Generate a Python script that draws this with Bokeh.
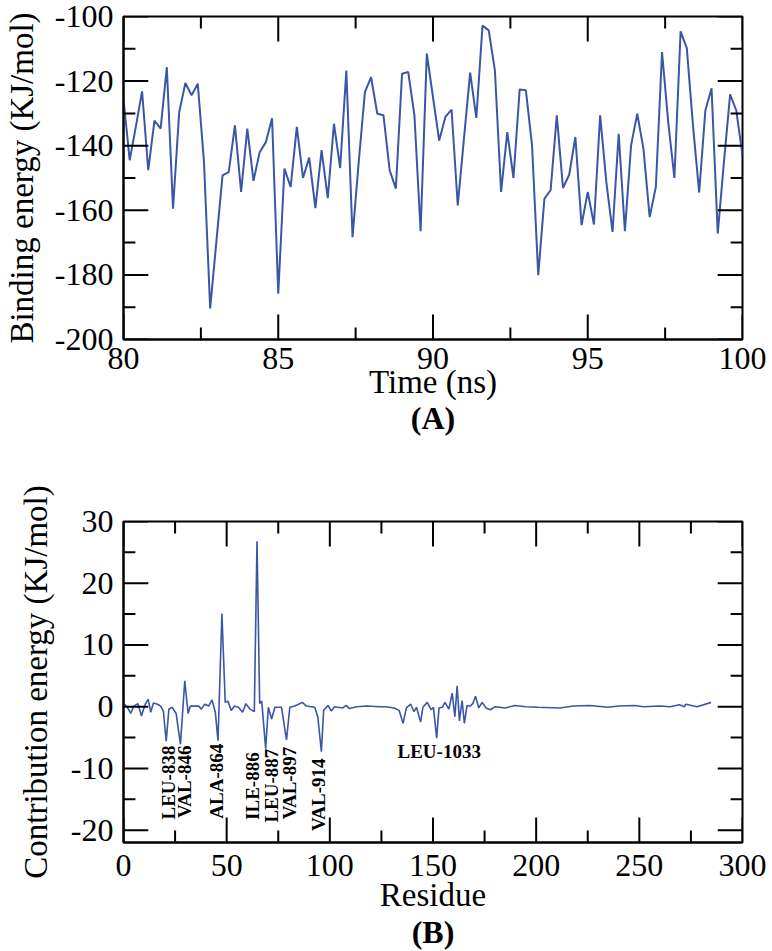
import numpy as np
from bokeh.plotting import figure
from bokeh.models import SingleIntervalTicker, Title, Range1d, PrintfTickFormatter, ColumnDataSource
from bokeh.layouts import column
from bokeh.embed import file_html
from bokeh.resources import INLINE
from bokeh.core.properties import value

# ---------------- data ----------------
# (A) binding energy, sampled every 0.2 ns from 80 to 100 ns
binding_energy = [
    -125.5, -144.5, -134.0, -123.2, -147.6, -132.2, -134.7, -115.7, -159.5, -129.6,
    -120.6, -124.4, -120.8, -145.0, -190.4, -169.8, -149.2, -148.2, -133.7, -154.3,
    -134.7, -150.9, -142.0, -138.9, -131.5, -185.8, -147.1, -152.8, -134.2, -150.0,
    -143.7, -159.3, -141.4, -156.2, -133.2, -146.9, -116.7, -168.3, -145.0, -123.4,
    -118.8, -130.1, -130.6, -147.6, -153.3, -117.7, -117.2, -130.6, -166.5, -111.5,
    -125.0, -138.4, -131.1, -128.8, -158.5, -137.8, -117.4, -131.4, -102.8, -104.3,
    -116.7, -154.3, -135.8, -150.0, -122.6, -122.8, -139.9, -180.1, -156.4, -153.8,
    -130.6, -153.1, -149.0, -137.3, -164.6, -154.3, -164.4, -130.6, -151.2, -166.7,
    -136.3, -166.5, -139.9, -130.1, -141.0, -162.1, -152.8, -111.0, -132.7, -150.0,
    -104.6, -109.8, -133.7, -154.5, -129.1, -122.2, -167.2, -145.1, -124.1, -129.1,
    -143.0,
]
time_start, time_end = 80, 100
a_x_major = [80, 85, 90, 95, 100]
a_x_minor = [82.5, 87.5, 92.5, 97.5]
a_y_major = [-200, -180, -160, -140, -120, -100]
a_y_minor = [-190, -170, -150, -130, -110]

# (B) per-residue contribution energy
residue = [
    0, 1.5, 3.5, 5, 7, 8.7, 10.5, 12, 13.2, 14.5, 16.5, 18, 19.3, 20.7, 22, 23.6,
    25.5, 27.6, 29.7, 31.3, 32.4, 36.5, 37.7, 39.4, 41.3, 42.9, 44.5, 45.8, 47.7,
    49.3, 50.6, 52.2, 53.8, 55.7, 57.7, 59.3, 61.3, 63.4, 64.7, 66, 67, 68.9, 70.2,
    71.8, 73.4, 76.6, 79, 80.6, 83, 86.7, 88.6, 92.7, 94.2, 95.9, 97, 99.1, 100.7,
    102.3, 106.3, 107.9, 109.5, 113, 118, 124, 127, 131.2, 133.6, 135.5, 137.1,
    139.2, 140.8, 142, 144, 145.1, 147.2, 149.1, 150.2, 151.8, 152.9, 154.5, 155.8,
    157.7, 159.3, 160.6, 161.7, 162.8, 164.1, 165.2, 166.5, 168, 169.3, 170.6,
    172.2, 173.8, 175.7, 177.8, 180.2, 185, 189.8, 195, 201, 211.5, 218, 226,
    234.8, 240, 247.8, 252, 259.8, 265, 269.4, 271.8, 272.6, 278, 284.8,
]
contribution = [
    0.5, 0.1, -1.1, 0.1, 0.5, -1.5, 0.4, 1.2, -0.9, 0.6, 0.4, 0.1, -0.7, -5.6, -0.4, -0.1,
    -1.1, -6.1, 4.2, -1.1, 0.1, 0.1, -0.4, 0.4, 0.1, 1.1, -0.9, -5.5, 15.1,
    0.7, 0.9, -0.6, 0.1, -0.1, -0.9, 0.5, -0.4, -0.8, 26.8, 0.5, 0.9, -6.8, -0.1,
    -2.0, -0.1, -0.1, -5.4, -0.1, 0.1, 0.7, 0.1, -0.1, -1.7, -7.3, -0.6, 0.2, -0.7,
    0.0, -0.2, 0.2, -0.3, 0.0, 0.1, 0.0, 0.0, -0.2, -0.6, -2.7, -0.2,
    0.4, -0.8, -0.1, -2.5, -0.1, 0.7, -0.5, -0.1, -5.1, -0.2, -0.1, 0.7,
    -0.4, 2.2, -1.6, 3.4, -2.3, 1.0, -2.7, 0.2, 0.1, 0.5, 1.7,
    -0.2, 0.7, -0.2, -0.5, 0.0, -0.2, 0.2, 0.0, -0.1, -0.2, 0.1, 0.2,
    -0.1, 0.1, 0.2, 0.0, 0.1, 0.0, 0.3, 0.0, 0.4, 0.0, 0.7,
]
b_x_major = [0, 50, 100, 150, 200, 250, 300]
b_x_minor = [25, 75, 125, 175, 225, 275]
b_y_major = [-20, -10, 0, 10, 20, 30]
b_y_minor = [-15, -5, 5, 15, 25]

# residue labels (rotated), placed at the residue with their top end at y
rot_label_text = ["LEU-838", "VAL-846", "ALA-864", "ILE-886", "LEU-887", "VAL-897", "VAL-914"]
rot_label_res = [21.7, 29.7, 45.3, 62.6, 71.8, 80.3, 94.7]
rot_label_top = [-6.3, -6.3, -6.0, -7.4, -6.8, -6.5, -8.4]
flat_label_text = ["LEU-1033"]
flat_label_res = [153]
flat_label_y = [-7.2]

# ---------------- styling ----------------
FONT = "Liberation Serif"
BLUE = "#3a56a6"
MAJOR_LEN = 25   # px
MINOR_LEN = 12   # px


def style_axis(ax, ticker):
    ax.ticker = ticker
    ax.formatter = PrintfTickFormatter(format="%d")
    ax.axis_line_color = "black"
    ax.axis_line_width = 2
    ax.major_tick_in = 0
    ax.major_tick_out = 0
    ax.minor_tick_in = 0
    ax.minor_tick_out = 0
    ax.major_label_text_font = FONT
    ax.major_label_text_font_size = "32px"
    ax.major_label_text_color = "black"
    ax.axis_label_text_font = FONT
    ax.axis_label_text_font_size = "33px"
    ax.axis_label_text_font_style = "normal"
    ax.axis_label_text_color = "black"


def series_with_ticks(p, x, y, color, width, xr, yr, frame_w, frame_h, xmaj, xmin, ymaj, ymin):
    """One multi-line renderer: the data series plus inward tick marks on all four sides."""
    dx = (xr[1] - xr[0]) / frame_w   # data units per pixel
    dy = (yr[1] - yr[0]) / frame_h
    xs, ys = [list(x)], [list(y)]
    colors, widths = [color], [width]
    for ticks, L in ((xmaj, MAJOR_LEN), (xmin, MINOR_LEN)):
        for t in ticks:
            xs += [[t, t], [t, t]]
            ys += [[yr[0], yr[0] + L * dy], [yr[1], yr[1] - L * dy]]
    for ticks, L in ((ymaj, MAJOR_LEN), (ymin, MINOR_LEN)):
        for t in ticks:
            xs += [[xr[0], xr[0] + L * dx], [xr[1], xr[1] - L * dx]]
            ys += [[t, t], [t, t]]
    n_ticks = len(xs) - 1
    colors += ["black"] * n_ticks
    widths += [2] * n_ticks
    src = ColumnDataSource(dict(xs=xs, ys=ys, color=colors, width=widths))
    p.multi_line(xs="xs", ys="ys", line_color="color", line_width="width", source=src)


def make_fig(width, height, xr, yr, xint, yint, xlabel, ylabel, tag, borders, standoffs):
    left, right, top, bottom = borders
    tick_so, label_so, title_so, ylab_so = standoffs
    p = figure(width=width, height=height, x_range=Range1d(*xr), y_range=Range1d(*yr),
               output_backend="svg", toolbar_location=None,
               min_border_left=left, min_border_right=right,
               min_border_top=top, min_border_bottom=bottom)
    p.xgrid.visible = False
    p.ygrid.visible = False
    p.outline_line_color = "black"
    p.outline_line_width = 2
    p.background_fill_color = "white"
    p.border_fill_color = "white"

    xa, ya = p.xaxis[0], p.yaxis[0]
    style_axis(xa, SingleIntervalTicker(interval=xint, num_minor_ticks=2))
    style_axis(ya, SingleIntervalTicker(interval=yint, num_minor_ticks=2))
    xa.axis_label = xlabel
    ya.axis_label = ylabel
    xa.major_label_standoff = tick_so
    xa.axis_label_standoff = label_so
    ya.major_label_standoff = 10
    ya.axis_label_standoff = ylab_so

    p.add_layout(Title(text=tag, align="center", text_font=FONT, text_font_size="32px",
                       text_font_style="bold", text_color="black", standoff=title_so), "below")
    return p, width - left - right, height - top - bottom


# (A)
p1, fw1, fh1 = make_fig(772, 460, (80, 100), (-200, -100), 5, 20,
                        "Time (ns)", "Binding energy (KJ/mol)", "(A)",
                        (118, 30, 16, 121), (8, -8, -10, 12))
time_ns = np.linspace(time_start, time_end, len(binding_energy))
series_with_ticks(p1, time_ns, binding_energy, BLUE, 2, (80, 100), (-200, -100), fw1, fh1,
                  a_x_major, a_x_minor, a_y_major, a_y_minor)

# (B)
p2, fw2, fh2 = make_fig(772, 491, (0, 300), (-22, 30), 50, 10,
                        "Residue", "Contribution energy (KJ/mol)", "(B)",
                        (119, 29, 61, 109), (12, -2, -8, 14))
series_with_ticks(p2, residue, contribution, BLUE, 1.6, (0, 300), (-22, 30), fw2, fh2,
                  b_x_major, b_x_minor, b_y_major, b_y_minor)
p2.text(x=rot_label_res, y=rot_label_top, text=rot_label_text, angle=np.pi / 2,
        text_align="right", text_baseline="middle", text_font=value(FONT),
        text_font_size="19px", text_font_style="bold", text_color="black")
p2.text(x=flat_label_res, y=flat_label_y, text=flat_label_text,
        text_align="center", text_baseline="middle", text_font=value(FONT),
        text_font_size="19px", text_font_style="bold", text_color="black")

layout = column(p1, p2, spacing=0)
open("out.html", "w").write(file_html(layout, INLINE))
